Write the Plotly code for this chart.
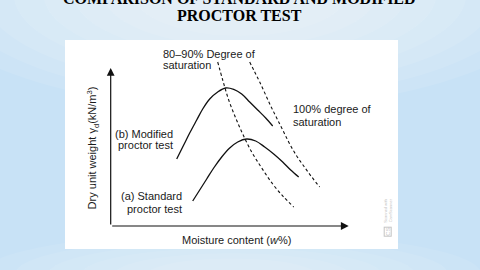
import plotly.graph_objects as go

# ---- data (moisture content w %, dry unit weight kN/m^3) ----
modified_w = [6.6, 7.3, 7.9, 8.6, 9.2, 9.9, 10.7, 11.5, 12.3, 13.1, 13.9, 14.7, 15.5, 16.2]
modified_g = [17.35, 18.05, 18.65, 19.3, 19.85, 20.35, 20.7, 20.9, 20.83, 20.6, 20.2, 19.8, 19.4, 19.0]

standard_w = [8.2, 8.9, 9.6, 10.3, 11.1, 11.9, 12.7, 13.6, 14.5, 15.4, 16.3, 17.2, 18.0, 18.8]
standard_g = [15.25, 15.8, 16.35, 16.9, 17.45, 17.9, 18.2, 18.35, 18.25, 17.95, 17.6, 17.2, 16.8, 16.45]

sat80_w = [10.7, 11.2, 11.8, 12.5, 13.2, 14.1, 15.1, 16.2, 17.3, 18.3]
sat80_g = [22.2, 21.3, 20.3, 19.4, 18.6, 17.7, 16.9, 16.1, 15.45, 14.95]

sat100_w = [13.9, 14.4, 14.9, 15.5, 16.1, 16.7, 17.3, 17.9, 18.6, 19.3, 20.1, 20.9]
sat100_g = [22.2, 21.7, 21.2, 20.55, 19.9, 19.3, 18.7, 18.1, 17.5, 17.0, 16.45, 15.95]

title_lines = ["COMPARISON OF STANDARD AND MODIFIED", "PROCTOR TEST"]
x_label = "Moisture content (<i>w</i>%)"
y_label = "Dry unit weight γ<sub>d</sub>(kN/m<sup>3</sup>)"

# axis geometry (data units)
x0, y0 = 0.0, 14.0
x_end, y_end = 23.8, 21.9

fig = go.Figure()
line_col = "#111111"
fig.add_trace(go.Scatter(x=modified_w, y=modified_g, mode="lines",
                         line=dict(color=line_col, width=1.3, shape="spline", smoothing=1.0)))
fig.add_trace(go.Scatter(x=standard_w, y=standard_g, mode="lines",
                         line=dict(color=line_col, width=1.3, shape="spline", smoothing=1.0)))
fig.add_trace(go.Scatter(x=sat80_w, y=sat80_g, mode="lines",
                         line=dict(color=line_col, width=1.1, dash="3px,2.5px", shape="spline")))
fig.add_trace(go.Scatter(x=sat100_w, y=sat100_g, mode="lines",
                         line=dict(color=line_col, width=1.1, dash="3px,2.5px", shape="spline")))

ann = []
# axes with arrows
ann.append(dict(x=x_end, y=y0, ax=x0, ay=y0, xref="x", yref="y", axref="x", ayref="y",
                text="", showarrow=True, arrowhead=2, arrowsize=1.3, arrowwidth=1.2, arrowcolor=line_col))
ann.append(dict(x=x0, y=y_end, ax=x0, ay=y0, xref="x", yref="y", axref="x", ayref="y",
                text="", showarrow=True, arrowhead=2, arrowsize=1.3, arrowwidth=1.2, arrowcolor=line_col))

lab_font = dict(family="Liberation Sans, Arial", size=11, color="#1a1a1a")

def txt(x, y, s, xa="left", **kw):
    d = dict(x=x, y=y, xref="x", yref="y", text=s, showarrow=False, xanchor=xa,
             yanchor="middle", font=lab_font, borderpad=0)
    d.update(kw)
    ann.append(d)

txt(5.13, 22.6, "80–90% Degree of")
txt(5.13, 22.03, "saturation")
txt(18.13, 19.83, "100% degree of")
txt(18.13, 19.2, "saturation")
txt(6.33, 18.6, "(b) Modified", "right")
txt(6.33, 18.04, "proctor test", "right")
txt(7.23, 15.5, "(a) Standard", "right")
txt(7.23, 14.87, "proctor test", "right")
txt(12.58, 13.28, x_label, "center")
txt(-1.77, 17.88, y_label, "center", textangle=-90)

# faint scanner watermark
ann.append(dict(x=27.7, y=14.75, xref="x", yref="y", text="Scanned with<br>CamScanner", showarrow=False,
                textangle=-90, font=dict(family="Liberation Sans", size=4, color="#c4c4c4")))
ann.append(dict(x=27.7, y=13.7, xref="x", yref="y", text="CS", showarrow=False, textangle=-90,
                bordercolor="#c4c4c4", borderwidth=1, borderpad=0,
                font=dict(family="Liberation Sans", size=6, color="#c4c4c4")))

# title
tfont = dict(family="Liberation Serif, Times New Roman", size=16, color="#000000")
ann.append(dict(x=0.5255, y=1.199, xref="paper", yref="paper", text="<b>%s</b>" % title_lines[0],
                showarrow=False, xanchor="center", yanchor="middle", font=tfont))
ann.append(dict(x=0.5255, y=1.117, xref="paper", yref="paper", text="<b>%s</b>" % title_lines[1],
                showarrow=False, xanchor="center", yanchor="middle", font=tfont))

# soft radial glow built from stacked translucent ellipses
shapes = []
cx, cy = 0.5255, 1.22
for i in range(8):
    rx = 0.95 - i * 0.09
    ry = 0.55 - i * 0.05
    shapes.append(dict(type="circle", xref="paper", yref="paper",
                       x0=cx - rx, x1=cx + rx, y0=cy - ry, y1=cy + ry,
                       fillcolor="rgba(255,255,255,0.09)", line=dict(width=0), layer="below"))
bx, by = 0.5, -0.12
for i in range(6):
    rx = 0.75 - i * 0.1
    ry = 0.2 - i * 0.025
    shapes.append(dict(type="circle", xref="paper", yref="paper",
                       x0=bx - rx, x1=bx + rx, y0=by - ry, y1=by + ry,
                       fillcolor="rgba(255,255,255,0.08)", line=dict(width=0), layer="below"))

fig.update_layout(
    width=480, height=270,
    margin=dict(l=65, r=82, t=40, b=21),
    paper_bgcolor="#c8e2f6",
    plot_bgcolor="#ffffff",
    showlegend=False,
    xaxis=dict(range=[-4.57, 28.73], visible=False, fixedrange=True),
    yaxis=dict(range=[12.85, 23.3], visible=False, fixedrange=True),
    annotations=ann,
    shapes=shapes,
)

fig.write_html("out.html", config={"displayModeBar": False})
